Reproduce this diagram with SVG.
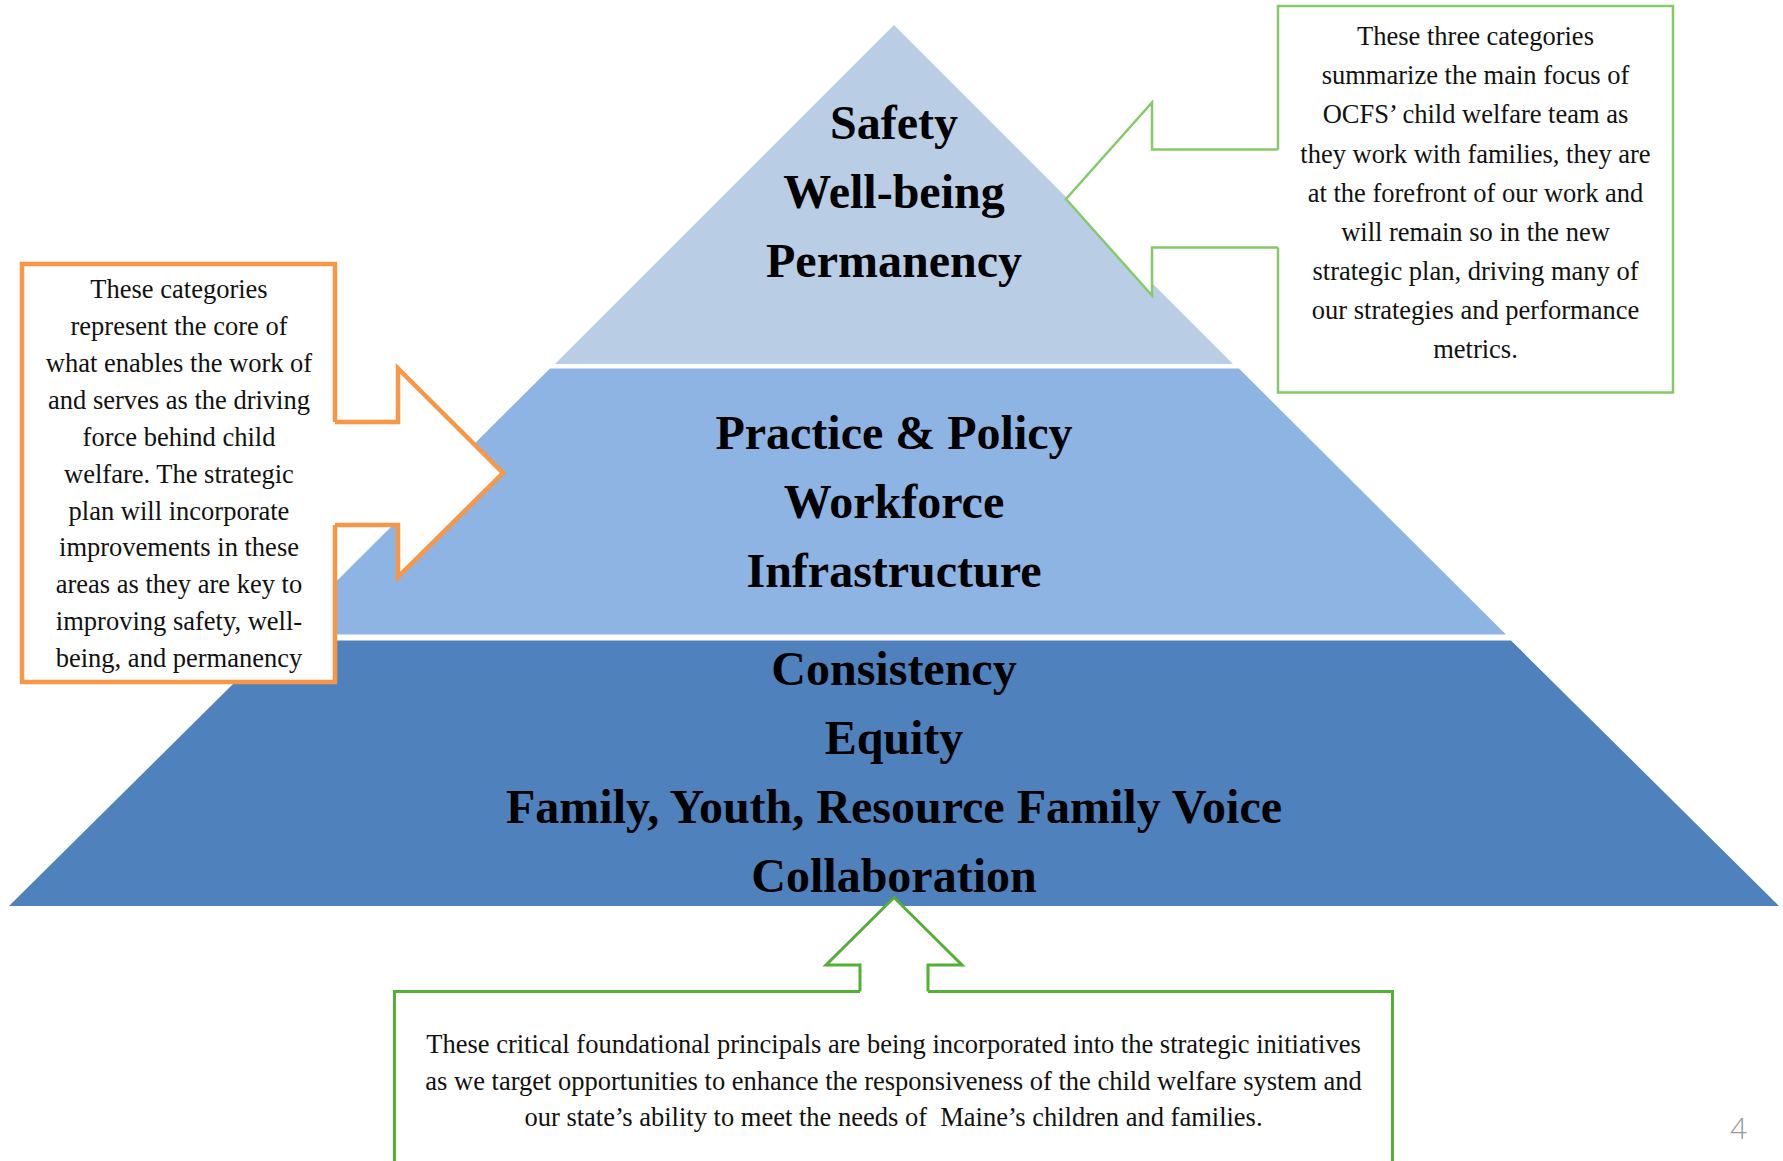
<svg xmlns="http://www.w3.org/2000/svg" width="1783" height="1161" viewBox="0 0 1783 1161">
  <style>
    .tier-label { font-family: "Liberation Serif", "Times New Roman", serif; font-weight: bold; font-size: 48px; fill: #000; text-anchor: middle; }
    .note { font-family: "Liberation Serif", "Times New Roman", serif; font-size: 26.5px; fill: #111; text-anchor: middle; }
    .callout-orange { fill: #fff; stroke: #F79646; stroke-width: 4.5; stroke-linejoin: miter; }
    .callout-green-light { fill: #fff; stroke: #86C96A; stroke-width: 2.5; stroke-linejoin: miter; }
    .callout-green { fill: #fff; stroke: #55AE35; stroke-width: 3; stroke-linejoin: miter; }
    .page-num { font-family: "Open Sans", "Liberation Sans", sans-serif; font-weight: 300; font-size: 29px; fill: #999; text-anchor: middle; }
  </style>

  <rect width="1783" height="1161" fill="#fff"/>

  <!-- Pyramid tiers -->
  <g id="tier-top">
    <polygon points="894,25 1233,364 555,364" fill="#B9CDE5"/>
    <text class="tier-label" x="894" y="139">Safety</text>
    <text class="tier-label" x="894" y="208">Well-being</text>
    <text class="tier-label" x="894" y="277">Permanency</text>
  </g>

  <g id="tier-middle">
    <polygon points="550,368.5 1239,368.5 1506,634.5 283,634.5" fill="#8EB4E3"/>
    <text class="tier-label" x="894" y="449">Practice &amp; Policy</text>
    <text class="tier-label" x="894" y="518">Workforce</text>
    <text class="tier-label" x="894" y="587">Infrastructure</text>
  </g>

  <g id="tier-bottom">
    <polygon points="277,640.5 1511,640.5 1779,906 9,906" fill="#4F81BD"/>
    <text class="tier-label" x="894" y="685">Consistency</text>
    <text class="tier-label" x="894" y="754">Equity</text>
    <text class="tier-label" x="894" y="823">Family, Youth, Resource Family Voice</text>
    <text class="tier-label" x="894" y="892">Collaboration</text>
  </g>

  <!-- Callout arrows (outline shapes pointing at the tiers) -->
  <g id="connectors">
    <path id="arrow-orange" class="callout-orange" d="M335,422 H398 V368.5 L503,473 L398,577 V525 H335"/>
    <path id="arrow-green-top" class="callout-green-light" d="M1278,149.5 H1152 V102.5 L1066,199 L1152,295.5 V247.5 H1278"/>
    <path id="arrow-green-bottom" class="callout-green" d="M860,991.5 V965 H826 L894,897.5 L962,965 H928 V991.5"/>
  </g>

  <!-- Left note: core enablers -->
  <g id="note-enablers">
    <rect x="24.5" y="266.5" width="308" height="413" fill="#fff" stroke="none"/>
    <path class="callout-orange" fill="none" d="M335,422 V264 H22 V682 H335 V525"/>
    <text class="note" x="179" y="298">These categories</text>
    <text class="note" x="179" y="335">represent the core of</text>
    <text class="note" x="179" y="372">what enables the work of</text>
    <text class="note" x="179" y="409">and serves as the driving</text>
    <text class="note" x="179" y="445.5">force behind child</text>
    <text class="note" x="179" y="482.5">welfare. The strategic</text>
    <text class="note" x="179" y="519.5">plan will incorporate</text>
    <text class="note" x="179" y="556">improvements in these</text>
    <text class="note" x="179" y="593">areas as they are key to</text>
    <text class="note" x="179" y="630">improving safety, well-</text>
    <text class="note" x="179" y="667">being, and permanency</text>
  </g>

  <!-- Right note: main focus -->
  <g id="note-focus">
    <rect x="1279.5" y="7" width="392" height="384" fill="#fff" stroke="none"/>
    <path class="callout-green-light" fill="none" d="M1278,149.5 V6 H1673 V392.5 H1278 V247.5"/>
    <text class="note" x="1475.5" y="45">These three categories</text>
    <text class="note" x="1475.5" y="84">summarize the main focus of</text>
    <text class="note" x="1475.5" y="123">OCFS’ child welfare team as</text>
    <text class="note" x="1475.5" y="162.5">they work with families, they are</text>
    <text class="note" x="1475.5" y="201.5">at the forefront of our work and</text>
    <text class="note" x="1475.5" y="240.5">will remain so in the new</text>
    <text class="note" x="1475.5" y="280">strategic plan, driving many of</text>
    <text class="note" x="1475.5" y="319">our strategies and performance</text>
    <text class="note" x="1475.5" y="358">metrics.</text>
  </g>

  <!-- Bottom note: foundational principles -->
  <g id="note-foundation">
    <rect x="396" y="993" width="995.5" height="180" fill="#fff" stroke="none"/>
    <path class="callout-green" fill="none" d="M860,991.5 H394.5 V1175 M1392.5,1175 V991.5 H928"/>
    <text class="note" x="893.5" y="1053">These critical foundational principals are being incorporated into the strategic initiatives</text>
    <text class="note" x="893.5" y="1090">as we target opportunities to enhance the responsiveness of the child welfare system and</text>
    <text class="note" x="893.5" y="1126">our state’s ability to meet the needs of&#160; Maine’s children and families.</text>
  </g>

  <g id="page-number">
    <text class="page-num" x="1738.5" y="1139">4</text>
  </g>
</svg>
